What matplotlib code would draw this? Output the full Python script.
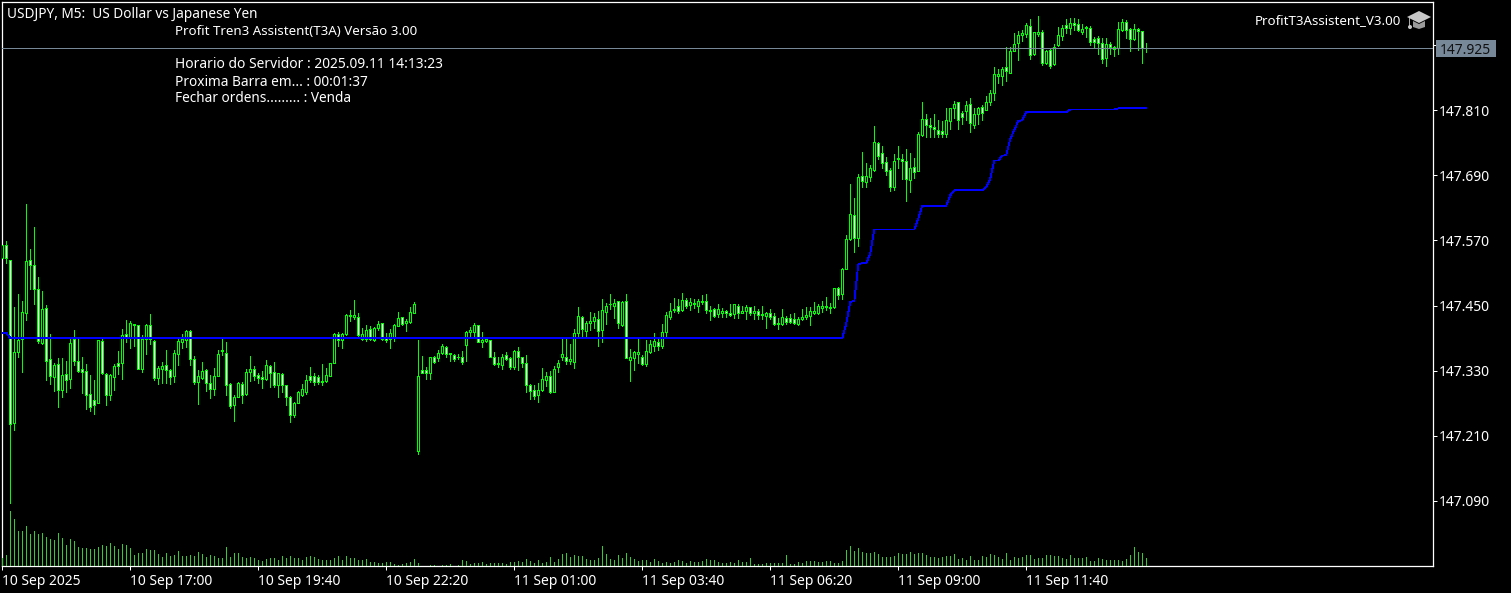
import numpy as np
import matplotlib
matplotlib.use("Agg")
import matplotlib.pyplot as plt
from matplotlib.patches import Polygon, Circle, Rectangle
from matplotlib.transforms import Affine2D

W, H = 1511, 593
GREEN = "#00FF00"
VOL_GREEN = "#32CD32"
BLUE = "#0000FF"
SLATE = "#778899"
FONT = "Noto Sans"

# USDJPY M5 candles, one row = 10 bars
opens = [
    147.537, 147.562, 147.533, 147.233, 147.364, 147.388, 147.437, 147.533, 147.524, 147.481,
    147.381, 147.445, 147.351, 147.319, 147.342, 147.295, 147.323, 147.314, 147.389, 147.347,
    147.334, 147.329, 147.287, 147.276, 147.271, 147.385, 147.323, 147.286, 147.319, 147.344,
    147.345, 147.397, 147.390, 147.414, 147.414, 147.333, 147.388, 147.414, 147.384, 147.317,
    147.333, 147.340, 147.331, 147.321, 147.361, 147.383, 147.387, 147.403, 147.351, 147.310,
    147.317, 147.331, 147.308, 147.297, 147.321, 147.366, 147.363, 147.305, 147.266, 147.282,
    147.306, 147.287, 147.327, 147.333, 147.322, 147.318, 147.314, 147.339, 147.327, 147.303,
    147.324, 147.303, 147.281, 147.249, 147.271, 147.286, 147.291, 147.321, 147.320, 147.318,
    147.310, 147.311, 147.321, 147.345, 147.397, 147.386, 147.397, 147.431, 147.428, 147.428,
    147.388, 147.389, 147.406, 147.387, 147.408, 147.417, 147.390, 147.389, 147.392, 147.413,
    147.428, 147.417, 147.419, 147.437, 147.183, 147.332, 147.332, 147.325, 147.355, 147.354,
    147.362, 147.373, 147.360, 147.358, 147.355, 147.356, 147.378, 147.401, 147.402, 147.414,
    147.383, 147.385, 147.387, 147.356, 147.342, 147.340, 147.358, 147.353, 147.337, 147.366,
    147.355, 147.344, 147.303, 147.294, 147.285, 147.294, 147.313, 147.321, 147.291, 147.337,
    147.355, 147.356, 147.348, 147.346, 147.399, 147.428, 147.403, 147.418, 147.421, 147.425,
    147.405, 147.438, 147.452, 147.450, 147.458, 147.414, 147.458, 147.350, 147.353, 147.360,
    147.356, 147.342, 147.364, 147.375, 147.382, 147.375, 147.402, 147.429, 147.441, 147.450,
    147.441, 147.461, 147.451, 147.452, 147.449, 147.456, 147.458, 147.441, 147.444, 147.434,
    147.436, 147.439, 147.437, 147.434, 147.450, 147.437, 147.440, 147.447, 147.436, 147.439,
    147.432, 147.431, 147.437, 147.430, 147.416, 147.416, 147.427, 147.427, 147.426, 147.416,
    147.426, 147.429, 147.431, 147.436, 147.436, 147.446, 147.447, 147.445, 147.447, 147.482,
    147.472, 147.518, 147.572, 147.616, 147.574, 147.688, 147.677, 147.687, 147.700, 147.749,
    147.730, 147.714, 147.700, 147.669, 147.720, 147.720, 147.717, 147.682, 147.706, 147.698,
    147.764, 147.793, 147.782, 147.779, 147.774, 147.771, 147.766, 147.790, 147.813, 147.824,
    147.804, 147.809, 147.822, 147.782, 147.802, 147.815, 147.810, 147.824, 147.841, 147.873,
    147.873, 147.889, 147.879, 147.919, 147.933, 147.949, 147.950, 147.965, 147.913, 147.950,
    147.953, 147.897, 147.920, 147.894, 147.929, 147.947, 147.966, 147.962, 147.971, 147.968,
    147.953, 147.962, 147.962, 147.940, 147.942, 147.933, 147.905, 147.931, 147.927, 147.924,
    147.958, 147.973, 147.959, 147.941, 147.960, 147.955, 147.924,
]
highs = [
    147.562, 147.568, 147.534, 147.448, 147.471, 147.459, 147.637, 147.554, 147.595, 147.502,
    147.477, 147.451, 147.398, 147.344, 147.354, 147.354, 147.348, 147.392, 147.405, 147.392,
    147.355, 147.342, 147.322, 147.313, 147.387, 147.389, 147.326, 147.324, 147.342, 147.366,
    147.407, 147.424, 147.422, 147.416, 147.415, 147.396, 147.416, 147.435, 147.387, 147.338,
    147.346, 147.368, 147.333, 147.368, 147.392, 147.398, 147.405, 147.405, 147.357, 147.331,
    147.346, 147.333, 147.322, 147.335, 147.368, 147.389, 147.383, 147.308, 147.285, 147.309,
    147.309, 147.333, 147.357, 147.339, 147.326, 147.330, 147.350, 147.341, 147.346, 147.326,
    147.325, 147.304, 147.284, 147.273, 147.293, 147.306, 147.322, 147.337, 147.326, 147.322,
    147.342, 147.335, 147.345, 147.400, 147.401, 147.400, 147.435, 147.442, 147.460, 147.436,
    147.408, 147.414, 147.412, 147.411, 147.422, 147.418, 147.399, 147.407, 147.416, 147.438,
    147.429, 147.425, 147.447, 147.457, 147.387, 147.357, 147.336, 147.355, 147.357, 147.369,
    147.379, 147.375, 147.362, 147.360, 147.361, 147.366, 147.403, 147.410, 147.418, 147.414,
    147.401, 147.392, 147.387, 147.364, 147.355, 147.361, 147.364, 147.355, 147.368, 147.374,
    147.355, 147.359, 147.305, 147.304, 147.307, 147.335, 147.328, 147.329, 147.339, 147.350,
    147.388, 147.392, 147.379, 147.406, 147.447, 147.431, 147.422, 147.438, 147.436, 147.440,
    147.462, 147.455, 147.471, 147.462, 147.458, 147.458, 147.471, 147.370, 147.366, 147.388,
    147.359, 147.387, 147.387, 147.399, 147.388, 147.416, 147.438, 147.455, 147.464, 147.462,
    147.473, 147.464, 147.464, 147.462, 147.462, 147.469, 147.471, 147.449, 147.445, 147.453,
    147.445, 147.442, 147.453, 147.453, 147.453, 147.450, 147.451, 147.447, 147.449, 147.444,
    147.449, 147.438, 147.444, 147.436, 147.427, 147.444, 147.431, 147.434, 147.436, 147.429,
    147.444, 147.447, 147.447, 147.456, 147.453, 147.458, 147.466, 147.455, 147.482, 147.485,
    147.520, 147.580, 147.674, 147.648, 147.692, 147.733, 147.712, 147.709, 147.781, 147.751,
    147.744, 147.724, 147.703, 147.729, 147.744, 147.729, 147.738, 147.731, 147.722, 147.770,
    147.825, 147.803, 147.795, 147.803, 147.792, 147.790, 147.814, 147.814, 147.827, 147.825,
    147.808, 147.827, 147.832, 147.814, 147.816, 147.819, 147.836, 147.847, 147.889, 147.885,
    147.889, 147.926, 147.926, 147.952, 147.956, 147.957, 147.970, 147.978, 147.954, 147.983,
    147.957, 147.921, 147.922, 147.932, 147.963, 147.967, 147.978, 147.979, 147.979, 147.978,
    147.968, 147.965, 147.965, 147.944, 147.946, 147.943, 147.943, 147.935, 147.928, 147.972,
    147.978, 147.976, 147.961, 147.968, 147.961, 147.956, 147.933,
]
lows = [
    147.537, 147.529, 147.086, 147.220, 147.356, 147.327, 147.424, 147.481, 147.453, 147.381,
    147.379, 147.313, 147.306, 147.293, 147.263, 147.282, 147.290, 147.299, 147.341, 147.328,
    147.289, 147.260, 147.256, 147.250, 147.270, 147.324, 147.267, 147.276, 147.295, 147.324,
    147.315, 147.383, 147.372, 147.376, 147.333, 147.328, 147.361, 147.379, 147.313, 147.306,
    147.308, 147.308, 147.306, 147.309, 147.341, 147.372, 147.374, 147.341, 147.306, 147.269,
    147.315, 147.293, 147.280, 147.285, 147.320, 147.359, 147.285, 147.261, 147.237, 147.282,
    147.271, 147.285, 147.311, 147.313, 147.308, 147.298, 147.313, 147.300, 147.300, 147.282,
    147.291, 147.267, 147.236, 147.245, 147.271, 147.284, 147.287, 147.309, 147.304, 147.306,
    147.304, 147.309, 147.320, 147.344, 147.376, 147.372, 147.396, 147.422, 147.425, 147.393,
    147.387, 147.385, 147.387, 147.385, 147.405, 147.387, 147.382, 147.372, 147.385, 147.412,
    147.414, 147.403, 147.418, 147.436, 147.177, 147.325, 147.315, 147.315, 147.344, 147.348,
    147.361, 147.355, 147.348, 147.348, 147.352, 147.342, 147.348, 147.394, 147.394, 147.383,
    147.374, 147.383, 147.355, 147.340, 147.337, 147.333, 147.350, 147.333, 147.333, 147.331,
    147.337, 147.291, 147.278, 147.278, 147.272, 147.293, 147.302, 147.289, 147.291, 147.328,
    147.350, 147.342, 147.342, 147.335, 147.390, 147.390, 147.392, 147.405, 147.409, 147.375,
    147.383, 147.416, 147.444, 147.427, 147.409, 147.412, 147.353, 147.311, 147.331, 147.344,
    147.340, 147.339, 147.363, 147.366, 147.368, 147.372, 147.390, 147.425, 147.438, 147.436,
    147.440, 147.445, 147.442, 147.445, 147.438, 147.453, 147.436, 147.423, 147.429, 147.429,
    147.429, 147.429, 147.431, 147.427, 147.427, 147.436, 147.425, 147.433, 147.425, 147.425,
    147.425, 147.409, 147.425, 147.414, 147.407, 147.414, 147.416, 147.418, 147.416, 147.414,
    147.423, 147.425, 147.414, 147.434, 147.434, 147.438, 147.442, 147.436, 147.445, 147.462,
    147.462, 147.517, 147.571, 147.548, 147.560, 147.668, 147.668, 147.679, 147.698, 147.720,
    147.703, 147.690, 147.661, 147.663, 147.703, 147.683, 147.642, 147.659, 147.685, 147.698,
    147.762, 147.760, 147.760, 147.760, 147.760, 147.760, 147.760, 147.775, 147.795, 147.775,
    147.784, 147.792, 147.770, 147.777, 147.784, 147.792, 147.810, 147.819, 147.828, 147.860,
    147.856, 147.863, 147.878, 147.919, 147.902, 147.937, 147.944, 147.904, 147.911, 147.946,
    147.893, 147.895, 147.887, 147.893, 147.928, 147.939, 147.952, 147.950, 147.957, 147.956,
    147.950, 147.944, 147.930, 147.926, 147.913, 147.897, 147.891, 147.913, 147.910, 147.913,
    147.956, 147.943, 147.919, 147.939, 147.921, 147.897, 147.917,
]
closes = [
    147.562, 147.537, 147.231, 147.365, 147.387, 147.438, 147.532, 147.524, 147.481, 147.384,
    147.443, 147.347, 147.321, 147.341, 147.295, 147.322, 147.313, 147.381, 147.348, 147.330,
    147.327, 147.286, 147.264, 147.267, 147.387, 147.325, 147.286, 147.322, 147.339, 147.338,
    147.395, 147.390, 147.417, 147.416, 147.334, 147.389, 147.414, 147.388, 147.317, 147.335,
    147.338, 147.332, 147.319, 147.363, 147.385, 147.389, 147.403, 147.351, 147.309, 147.320,
    147.330, 147.308, 147.297, 147.321, 147.361, 147.368, 147.303, 147.265, 147.281, 147.307,
    147.286, 147.327, 147.334, 147.321, 147.317, 147.315, 147.340, 147.325, 147.304, 147.325,
    147.303, 147.281, 147.249, 147.270, 147.290, 147.297, 147.312, 147.313, 147.310, 147.309,
    147.311, 147.322, 147.345, 147.398, 147.386, 147.397, 147.432, 147.433, 147.432, 147.395,
    147.398, 147.405, 147.389, 147.408, 147.416, 147.389, 147.387, 147.399, 147.414, 147.427,
    147.416, 147.421, 147.438, 147.452, 147.320, 147.326, 147.326, 147.355, 147.346, 147.362,
    147.375, 147.360, 147.362, 147.352, 147.356, 147.346, 147.402, 147.404, 147.414, 147.383,
    147.387, 147.388, 147.355, 147.342, 147.345, 147.356, 147.352, 147.337, 147.366, 147.355,
    147.345, 147.304, 147.293, 147.283, 147.294, 147.314, 147.321, 147.291, 147.334, 147.344,
    147.360, 147.348, 147.351, 147.399, 147.430, 147.407, 147.418, 147.421, 147.428, 147.403,
    147.441, 147.450, 147.453, 147.455, 147.417, 147.456, 147.354, 147.356, 147.364, 147.364,
    147.342, 147.366, 147.379, 147.384, 147.375, 147.402, 147.432, 147.439, 147.444, 147.439,
    147.461, 147.450, 147.456, 147.454, 147.458, 147.459, 147.441, 147.439, 147.431, 147.444,
    147.439, 147.436, 147.433, 147.452, 147.437, 147.439, 147.447, 147.436, 147.439, 147.433,
    147.434, 147.436, 147.428, 147.416, 147.418, 147.428, 147.420, 147.420, 147.418, 147.425,
    147.428, 147.433, 147.439, 147.439, 147.450, 147.449, 147.449, 147.447, 147.482, 147.469,
    147.518, 147.572, 147.618, 147.574, 147.686, 147.680, 147.688, 147.703, 147.751, 147.726,
    147.713, 147.698, 147.669, 147.716, 147.722, 147.716, 147.683, 147.704, 147.696, 147.765,
    147.793, 147.783, 147.778, 147.775, 147.766, 147.766, 147.791, 147.813, 147.822, 147.792,
    147.797, 147.820, 147.786, 147.802, 147.813, 147.805, 147.825, 147.841, 147.876, 147.876,
    147.885, 147.882, 147.918, 147.931, 147.949, 147.951, 147.967, 147.912, 147.953, 147.953,
    147.897, 147.918, 147.892, 147.927, 147.948, 147.962, 147.962, 147.971, 147.967, 147.957,
    147.959, 147.963, 147.936, 147.936, 147.934, 147.904, 147.931, 147.927, 147.922, 147.959,
    147.973, 147.957, 147.940, 147.959, 147.956, 147.924, 147.925,
]

# trend line from the T3A indicator
t3_line = [
    147.400, 147.400, 147.390, 147.390, 147.390, 147.390, 147.390, 147.390, 147.390, 147.390,
    147.390, 147.390, 147.390, 147.390, 147.390, 147.390, 147.390, 147.390, 147.390, 147.390,
    147.390, 147.390, 147.390, 147.390, 147.390, 147.390, 147.390, 147.390, 147.390, 147.390,
    147.390, 147.390, 147.390, 147.390, 147.390, 147.390, 147.390, 147.390, 147.390, 147.390,
    147.390, 147.390, 147.390, 147.390, 147.390, 147.390, 147.390, 147.390, 147.390, 147.390,
    147.390, 147.390, 147.390, 147.390, 147.390, 147.390, 147.390, 147.390, 147.390, 147.390,
    147.390, 147.390, 147.390, 147.390, 147.390, 147.390, 147.390, 147.390, 147.390, 147.390,
    147.390, 147.390, 147.390, 147.390, 147.390, 147.390, 147.390, 147.390, 147.390, 147.390,
    147.390, 147.390, 147.390, 147.390, 147.390, 147.390, 147.390, 147.390, 147.390, 147.390,
    147.390, 147.390, 147.390, 147.390, 147.390, 147.390, 147.390, 147.390, 147.390, 147.390,
    147.390, 147.390, 147.390, 147.390, 147.390, 147.390, 147.390, 147.390, 147.390, 147.390,
    147.390, 147.390, 147.390, 147.390, 147.390, 147.390, 147.390, 147.390, 147.390, 147.390,
    147.390, 147.390, 147.390, 147.390, 147.390, 147.390, 147.390, 147.390, 147.390, 147.390,
    147.390, 147.390, 147.390, 147.390, 147.390, 147.390, 147.390, 147.390, 147.390, 147.390,
    147.390, 147.390, 147.390, 147.390, 147.390, 147.390, 147.390, 147.390, 147.390, 147.390,
    147.390, 147.390, 147.390, 147.390, 147.390, 147.390, 147.390, 147.390, 147.390, 147.390,
    147.390, 147.390, 147.390, 147.390, 147.390, 147.390, 147.390, 147.390, 147.390, 147.390,
    147.390, 147.390, 147.390, 147.390, 147.390, 147.390, 147.390, 147.390, 147.390, 147.390,
    147.390, 147.390, 147.390, 147.390, 147.390, 147.390, 147.390, 147.390, 147.390, 147.390,
    147.390, 147.390, 147.390, 147.390, 147.390, 147.390, 147.390, 147.390, 147.390, 147.390,
    147.390, 147.390, 147.390, 147.390, 147.390, 147.390, 147.390, 147.390, 147.390, 147.390,
    147.390, 147.417, 147.457, 147.458, 147.526, 147.528, 147.528, 147.546, 147.590, 147.590,
    147.590, 147.590, 147.590, 147.590, 147.590, 147.590, 147.590, 147.590, 147.590, 147.610,
    147.634, 147.634, 147.634, 147.634, 147.634, 147.634, 147.634, 147.653, 147.662, 147.662,
    147.662, 147.662, 147.662, 147.662, 147.662, 147.662, 147.669, 147.684, 147.717, 147.717,
    147.726, 147.727, 147.757, 147.773, 147.790, 147.791, 147.806, 147.806, 147.806, 147.806,
    147.806, 147.806, 147.806, 147.806, 147.806, 147.806, 147.806, 147.811, 147.811, 147.811,
    147.811, 147.811, 147.811, 147.811, 147.811, 147.811, 147.811, 147.811, 147.811, 147.813,
    147.813, 147.813, 147.813, 147.813, 147.813, 147.813, 147.813,
]

volumes = [
    8, 11, 55, 47, 35, 35, 40, 32, 35, 32,
    33, 29, 27, 26, 33, 28, 21, 27, 25, 19,
    18, 18, 17, 17, 19, 21, 20, 23, 20, 17,
    22, 21, 18, 11, 13, 13, 17, 16, 16, 12,
    9, 13, 10, 11, 15, 10, 10, 11, 10, 14,
    12, 9, 11, 10, 8, 8, 19, 9, 13, 13,
    9, 8, 9, 8, 6, 5, 7, 8, 8, 6,
    10, 8, 10, 8, 8, 6, 9, 10, 9, 7,
    6, 6, 6, 8, 10, 6, 10, 8, 8, 6,
    6, 7, 4, 4, 3, 3, 4, 4, 2, 1,
    2, 3, 4, 7, 3, 0, 0, 1, 1, 0,
    1, 1, 2, 0, 1, 6, 5, 2, 3, 3,
    4, 2, 3, 3, 3, 3, 2, 4, 4, 5,
    4, 7, 5, 3, 6, 3, 4, 9, 4, 7,
    12, 13, 9, 11, 10, 10, 7, 6, 6, 8,
    20, 12, 7, 6, 11, 8, 13, 9, 7, 5,
    6, 6, 4, 7, 5, 3, 4, 3, 4, 6,
    5, 3, 5, 4, 4, 5, 7, 6, 6, 4,
    3, 3, 4, 3, 6, 4, 4, 8, 2, 2,
    2, 3, 3, 3, 3, 3, 11, 2, 2, 4,
    3, 5, 5, 5, 4, 4, 5, 5, 3, 3,
    5, 16, 20, 15, 18, 14, 13, 13, 14, 12,
    9, 9, 9, 10, 13, 12, 12, 14, 12, 13,
    13, 11, 9, 9, 8, 9, 10, 10, 12, 7,
    8, 6, 10, 6, 6, 10, 9, 12, 11, 9,
    7, 13, 6, 9, 8, 9, 11, 11, 7, 8,
    8, 11, 11, 10, 10, 8, 7, 11, 8, 8,
    8, 9, 5, 5, 8, 7, 6, 6, 6, 6,
    5, 7, 11, 19, 14, 13, 8,
]

price_ticks = [147.090, 147.210, 147.330, 147.450, 147.570, 147.690, 147.810, 147.930]
price_labels = ["147.090", "147.210", "147.330", "147.450", "147.570", "147.690", "147.810", ""]
last_price = 147.925

time_ticks = [0, 32, 64, 96, 128, 160, 192, 224, 256]
time_labels = ["10 Sep 2025", "10 Sep 17:00", "10 Sep 19:40", "10 Sep 22:20", "11 Sep 01:00",
               "11 Sep 03:40", "11 Sep 06:20", "11 Sep 09:00", "11 Sep 11:40"]

fig = plt.figure(figsize=(W / 100, H / 100), dpi=100, facecolor="black")
# frame in pixels: x 2.3..1433, y 2..566
ax = fig.add_axes([2.3 / W, 1 - 566 / H, 1430.7 / W, 564 / H], facecolor="black")
ax.set_xlim(0, 1430.7 / 4)
ax.set_ylim(147.09 - 65 / 543, 147.09 + 499 / 543)

x = np.arange(len(opens))
o, h, l, c = map(np.array, (opens, highs, lows, closes))
up = c >= o

ax.vlines(x, l, h, color=GREEN, lw=0.72, antialiased=False, zorder=2)
ax.bar(x, np.abs(c - o), bottom=np.minimum(o, c), width=0.5,
       color=np.where(up, "black", "white"), edgecolor=GREEN, linewidth=0.72,
       antialiased=False, zorder=3)
ax.plot(x, t3_line, color=BLUE, lw=0.6, antialiased=False, zorder=4)
ax.axhline(last_price, color=SLATE, lw=0.6, antialiased=False, zorder=5)

# volume sits on the bottom of the window
vol_ax = ax.twinx()
vol_ax.set_ylim(0, 564)
vol_ax.vlines(x, 0, volumes, color=VOL_GREEN, lw=0.72, antialiased=False)
vol_ax.axis("off")

ax.yaxis.tick_right()
ax.set_yticks(price_ticks, price_labels, fontsize=10, family=FONT, color="white")
ax.set_xticks(time_ticks, time_labels, fontsize=10, family=FONT, color="white", ha="left")
ax.tick_params(axis="y", length=3, width=0.72, color="white", pad=1.5)
ax.tick_params(axis="x", length=3, width=0.72, color="white", pad=3)
for sp in ax.spines.values():
    sp.set_color("white")
    sp.set_linewidth(0.9)


def px_text(px, py, s, size=9.7, **kw):
    kw.setdefault("color", "white")
    kw.setdefault("family", FONT)
    kw.setdefault("va", "baseline")
    fig.text(px / W, 1 - py / H, s, fontsize=size, **kw)


px_text(7, 18, "USDJPY, M5:  US Dollar vs Japanese Yen", size=9.8)
px_text(175, 35, "Profit Tren3 Assistent(T3A) Versão 3.00", size=9.6)
px_text(175, 68, "Horario do Servidor : 2025.09.11 14:13:23", size=9.95)
px_text(175, 85.5, "Proxima Barra em... : 00:01:37", size=9.85)
px_text(175, 102.5, "Fechar ordens......... : Venda", size=9.8)
px_text(1401, 24, "ProfitT3Assistent_V3.00", size=9.6, ha="right")

# price tag on the scale
to_px = Affine2D().scale(1, -1).translate(0, H)
fig.add_artist(Rectangle((1436, 40), 60, 17, facecolor=SLATE, edgecolor="none", transform=to_px))
px_text(1440, 53.5, "147.925", size=10, color="#111111")

# hat icon next to the expert name
CAP = "#C8C8C8"
fig.add_artist(Polygon([(1413, 21), (1413, 27), (1419, 29), (1425, 27), (1425, 21), (1419, 24)],
                       facecolor="#9A9A9A", edgecolor="none", transform=to_px))
fig.add_artist(Polygon([(1407, 17), (1419, 11), (1431, 17), (1419, 23)],
                       facecolor=CAP, edgecolor="none", transform=to_px))
fig.add_artist(Polygon([(1409, 18), (1410.2, 18), (1410.2, 26), (1409, 26)],
                       facecolor="#A8A8A8", edgecolor="none", transform=to_px))
fig.add_artist(Circle((1410, 27), 2, facecolor=CAP, edgecolor="none", transform=to_px))

fig.savefig("out.png", dpi=100, facecolor="black")
